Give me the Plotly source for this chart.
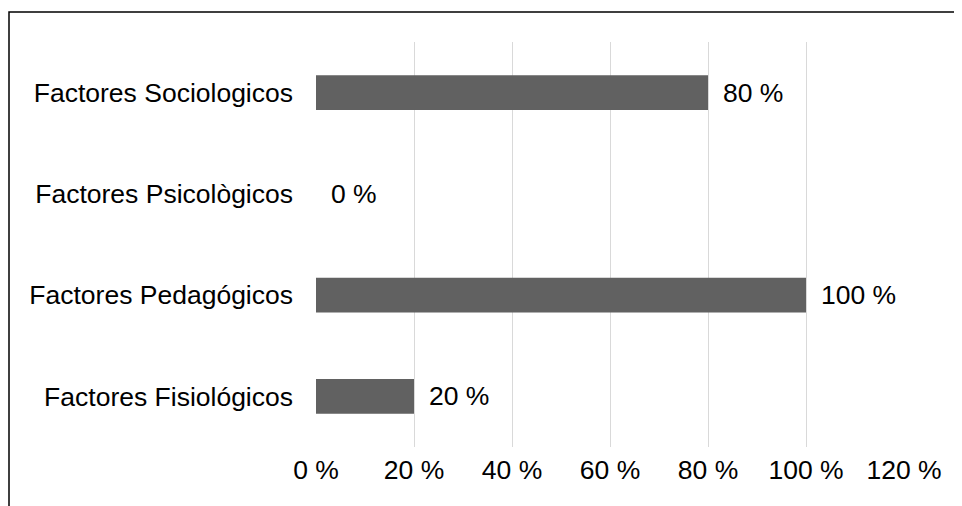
import plotly.graph_objects as go

categories = ["Factores Fisiológicos", "Factores Pedagógicos", "Factores Psicològicos", "Factores Sociologicos"]
values = [20, 100, 0, 80]
tick_vals = [0, 20, 40, 60, 80, 100, 120]
tick_text = ["0 %", "20 %", "40 %", "60 %", "80 %", "100 %", "120 %"]

# page body has an 8px margin, so compensate
OFF = 8
W, H = 962 - OFF, 506 - OFF
L, R, T, B = 316 - OFF, 58, 42 - OFF, 59
pw, ph = W - L - R, H - T - B
FS = 26.5
FONT = "Liberation Sans, Arial"

fig = go.Figure()
fig.add_trace(go.Bar(
    y=categories, x=values, orientation="h",
    marker=dict(color="#616161", line=dict(width=0)),
    hoverinfo="skip",
))
for c, v in zip(categories, values):
    fig.add_annotation(x=v, y=c, text=f"{v} %", showarrow=False,
                       xanchor="left", xshift=13,
                       font=dict(family=FONT, size=FS, color="#000"))

fig.add_shape(type="rect", xref="paper", yref="paper",
              x0=(9 - OFF - L) / pw, x1=1 + (R + 20) / pw,
              y0=-(B + 20) / ph, y1=1 + (T - (12 - OFF)) / ph,
              line=dict(color="black", width=1.5), fillcolor="rgba(0,0,0,0)", layer="below")

fig.update_layout(
    width=W, height=H,
    margin=dict(l=L, r=R, t=T, b=B, pad=0, autoexpand=False),
    paper_bgcolor="white", plot_bgcolor="white",
    showlegend=False, bargap=0.655,
    font=dict(family=FONT, size=FS, color="#000"),
    xaxis=dict(range=[0, 120], tickvals=tick_vals, ticktext=tick_text,
               showgrid=True, gridcolor="#d9d9d9", gridwidth=1,
               zeroline=False, showline=False, ticks="", ticklabelstandoff=4,
               tickfont=dict(family=FONT, size=FS), automargin=False,
               fixedrange=True),
    yaxis=dict(categoryorder="array", categoryarray=categories,
               showgrid=False, zeroline=False, showline=False, ticks="",
               ticklabelstandoff=22, tickfont=dict(family=FONT, size=FS),
               automargin=False, fixedrange=True),
)
fig.write_html("out.html")
